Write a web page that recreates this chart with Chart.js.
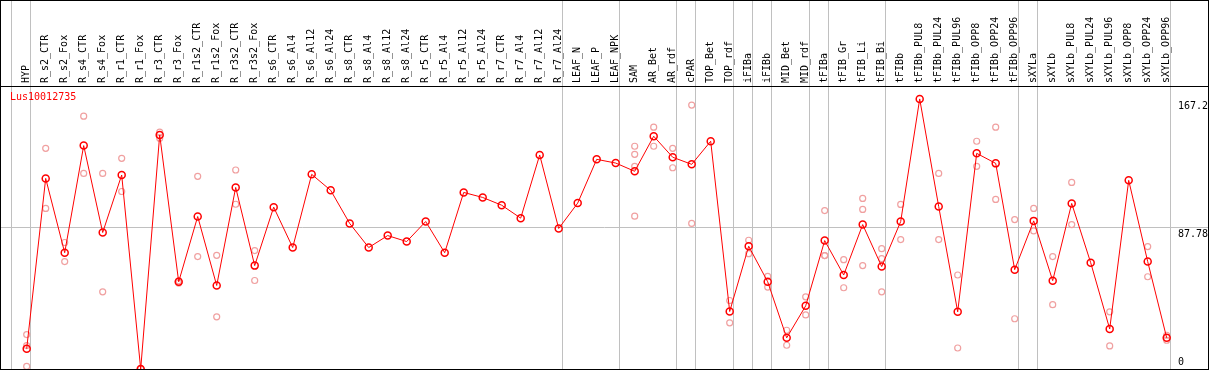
<!DOCTYPE html>
<html>
<head>
<meta charset="utf-8">
<script src="https://cdn.jsdelivr.net/npm/chart.js@4.4.1/dist/chart.umd.min.js"></script>
<style>
  html, body { margin: 0; padding: 0; background: #fff; }
  #wrap { width: 1207px; height: 368px; border: 1px solid #000; }
</style>
</head>
<body>
<div id="wrap"><canvas id="expr" width="1207" height="368"></canvas></div>
<script>
// gene shown
const geneName = 'Lus10012735';

// sample categories (left to right)
const categories = [
  'HYP', 'R_s2_CTR', 'R_s2_Fox', 'R_s4_CTR', 'R_s4_Fox', 'R_r1_CTR', 'R_r1_Fox',
  'R_r3_CTR', 'R_r3_Fox', 'R_r1s2_CTR', 'R_r1s2_Fox', 'R_r3s2_CTR', 'R_r3s2_Fox',
  'R_s6_CTR', 'R_s6_Al4', 'R_s6_Al12', 'R_s6_Al24', 'R_s8_CTR', 'R_s8_Al4', 'R_s8_Al12',
  'R_s8_Al24', 'R_r5_CTR', 'R_r5_Al4', 'R_r5_Al12', 'R_r5_Al24', 'R_r7_CTR', 'R_r7_Al4',
  'R_r7_Al12', 'R_r7_Al24', 'LEAF_N', 'LEAF_P', 'LEAF_NPK', 'SAM', 'AR_Bet', 'AR_rdf',
  'cPAR', 'TOP_Bet', 'TOP_rdf', 'iFIBa', 'iFIBb', 'MID_Bet', 'MID_rdf', 'tFIBa',
  'tFIB_Gr', 'tFIB_Li', 'tFIB_Bi', 'tFIBb', 'tFIBb_PUL8', 'tFIBb_PUL24', 'tFIBb_PUL96',
  'tFIBb_OPP8', 'tFIBb_OPP24', 'tFIBb_OPP96', 'sXYLa', 'sXYLb', 'sXYLb_PUL8',
  'sXYLb_PUL24', 'sXYLb_PUL96', 'sXYLb_OPP8', 'sXYLb_OPP24', 'sXYLb_OPP96'
];

// mean expression per category
const meanValues = [
  12.6, 118.0, 72.0, 138.3, 84.5, 120.1, 0,
  144.9, 54.0, 94.4, 51.7, 112.4, 64.0,
  100.2, 75.2, 120.5, 110.6, 90.1, 75.2, 82.6,
  78.9, 91.3, 72.0, 109.3, 106.2, 101.4, 93.4,
  132.5, 87.0, 102.7, 129.8, 127.5, 122.4, 144.1, 131.1,
  126.7, 141.0, 35.6, 76.0, 54.0, 19.3, 39.1, 79.5,
  58.2, 89.4, 63.4, 91.3, 167.2, 100.6, 35.4,
  133.5, 127.3, 61.5, 91.7, 54.7, 102.5,
  65.8, 24.8, 116.8, 66.5, 19.3
];

// single replicates per category (empty = none shown)
const replicates = [
  [21.3, 14.5, 1.6], [136.6, 99.4], [78.3, 66.5], [156.5, 121.1], [121.1, 47.8], [130.4, 109.9], [0, 0],
  [146.6, 142.9], [53.2, 54.6], [119.3, 69.6], [70.4, 32.3], [123.2, 102.0], [73.3, 54.8],
  [], [], [], [], [], [], [],
  [], [], [], [], [], [], [],
  [], [], [], [], [], [137.9, 132.9, 125.5, 94.6], [149.7, 137.9], [136.6, 124.6],
  [163.4, 90.1], [], [42.4, 28.6], [79.7, 71.4], [57.3, 50.7], [24.0, 14.7], [44.7, 33.5], [98.1, 70.2, 70.2],
  [67.7, 50.3], [105.6, 98.8, 64.0], [74.5, 68.3, 47.8], [101.9, 80.1], [], [121.1, 80.1], [58.2, 13.0],
  [141.0, 125.5], [149.7, 105.0], [92.5, 31.1], [99.4, 85.5], [69.6, 39.8], [115.5, 89.4],
  [], [35.4, 14.3], [], [75.8, 57.1], [20.9, 17.8]
];

// group separators: index of last category in each group (-1 = left start)
const groupEnds = [-1, 0, 28, 31, 34, 35, 37, 38, 39, 41, 42, 45, 52, 53, 60];

// y axis labels
const yTickValues = [0, 87.78, 167.2];
const yMax = 175.2;

const MONO = "'DejaVu Sans Mono', 'Liberation Mono', monospace";
const HEADER = 85;      // height of label strip
const STEP = 19;        // px per category
const FIRST_X = 25.7;   // px of first category
const SEP_SHIFT = 4 / STEP; // separators sit a little right of the point
const GRID = '#c0c0c0';
const NONE = 'rgba(0,0,0,0)';

const sepSet = new Set(groupEnds);

const meanPoints = meanValues.map((v, i) => ({ x: i, y: v }));
const repPoints = [];
replicates.forEach((arr, i) => arr.forEach(v => repPoints.push({ x: i, y: v })));

// y labels sit inside the plot, so the axes take no room
const noPad = (s) => { s.paddingTop = 0; s.paddingBottom = 0; s.width = 0; };

// gene name written in the top-left corner of the plot
const geneLabel = {
  id: 'geneLabel',
  afterDatasetsDraw(ch) {
    const { ctx, chartArea } = ch;
    ctx.save();
    ctx.font = '10px ' + MONO;
    ctx.fillStyle = '#ff0000';
    ctx.textBaseline = 'top';
    ctx.fillText(geneName, chartArea.left + 9, chartArea.top + 6);
    ctx.restore();
  }
};

const canvas = document.getElementById('expr');
const chart = new Chart(canvas, {
  data: {
    datasets: [
      {
        type: 'line',
        label: geneName,
        data: meanPoints,
        borderColor: '#ff0000',
        borderWidth: 1,
        pointRadius: 3.5,
        pointBorderColor: '#ff0000',
        pointBackgroundColor: NONE,
        pointBorderWidth: 1.5,
        tension: 0,
        clip: false,
        order: 0
      },
      {
        type: 'scatter',
        label: 'replicates',
        data: repPoints,
        pointRadius: 3,
        pointBorderColor: '#f0a0a0',
        pointBackgroundColor: NONE,
        pointBorderWidth: 1.2,
        clip: false,
        order: 1
      }
    ]
  },
  plugins: [geneLabel],
  options: {
    responsive: false,
    animation: false,
    events: [],
    layout: { padding: 0, autoPadding: false },
    plugins: {
      tooltip: { enabled: false },
      legend: { display: false }
    },
    scales: {
      x: {
        type: 'linear',
        position: 'top',
        min: -FIRST_X / STEP,
        max: (1207 - FIRST_X) / STEP,
        afterBuildTicks: (s) => {
          const t = [];
          for (let k = -1; k < categories.length; k++) t.push({ value: k + SEP_SHIFT });
          s.ticks = t;
        },
        afterFit: (s) => { s.height = HEADER; },
        ticks: {
          autoSkip: false,
          minRotation: 90,
          maxRotation: 90,
          padding: -82,
          labelOffset: 8,
          color: '#000',
          font: { family: MONO, size: 10 },
          callback: (v, i) => categories[i - 1] || ''
        },
        grid: {
          color: (c) => sepSet.has(c.index - 1) ? GRID : NONE,
          tickColor: (c) => sepSet.has(c.index - 1) ? GRID : NONE,
          tickLength: HEADER,
          lineWidth: 1
        },
        border: { display: true, color: '#000', width: 1 }
      },
      y: {
        position: 'right',
        min: 0,
        max: yMax,
        afterBuildTicks: (s) => { s.ticks = yTickValues.filter(v => v > 0).map(v => ({ value: v })); },
        afterFit: noPad,
        ticks: {
          mirror: true,
          crossAlign: 'far',
          padding: 0,
          labelOffset: 7,
          color: '#000',
          font: { family: MONO, size: 10 },
          callback: (v) => String(v)
        },
        grid: {
          color: (c) => (c.tick && c.tick.value === 87.78) ? GRID : NONE,
          drawTicks: false
        },
        border: { display: false }
      },
      y0: {
        position: 'right',
        min: 0,
        max: yMax,
        afterBuildTicks: (s) => { s.ticks = yTickValues.filter(v => v === 0).map(v => ({ value: v })); },
        afterFit: noPad,
        ticks: {
          mirror: true,
          crossAlign: 'far',
          padding: -24,
          labelOffset: -7,
          color: '#000',
          font: { family: MONO, size: 10 },
          callback: (v) => String(v)
        },
        grid: { display: false, drawTicks: false },
        border: { display: false }
      }
    }
  }
});
</script>
</body>
</html>
